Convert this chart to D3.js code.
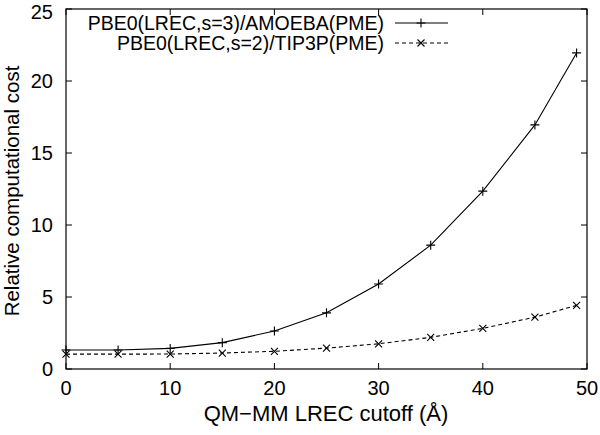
<!DOCTYPE html>
<html><head><meta charset="utf-8">
<script src="https://cdn.jsdelivr.net/npm/d3@7"></script>
<style>body{margin:0;background:#fff}svg{display:block}text{font-family:"Liberation Sans",Arial,sans-serif;fill:#000}</style>
</head><body><svg id="c" width="600" height="435"></svg>
<script>
const cutoffA = [0,5,10,15,20,25,30,35,40,45,49];
const costAmoeba = [1.32,1.32,1.43,1.83,2.64,3.9,5.9,8.6,12.35,16.95,21.95];
const costTip3p = [1.03,1.03,1.04,1.11,1.23,1.45,1.75,2.2,2.82,3.6,4.42];
const seriesNames = ["PBE0(LREC,s=3)/AMOEBA(PME)","PBE0(LREC,s=2)/TIP3P(PME)"];
const xTicks = [0,10,20,30,40,50];
const yTicks = [0,5,10,15,20,25];

const svg = d3.select("#c");
const L=66,R=587,T=9,B=369;
const x = d3.scaleLinear().domain([0,50]).range([L,R]);
const y = d3.scaleLinear().domain([0,25]).range([B,T]);

const g = svg.append("g");
g.append("rect").attr("x",L).attr("y",T).attr("width",R-L).attr("height",B-T)
 .attr("fill","none").attr("stroke","#000").attr("stroke-width",1.2);
const tl=6;
xTicks.forEach(v=>{
  g.append("line").attr("x1",x(v)).attr("x2",x(v)).attr("y1",B).attr("y2",B-tl).attr("stroke","#000");
  g.append("line").attr("x1",x(v)).attr("x2",x(v)).attr("y1",T).attr("y2",T+tl).attr("stroke","#000");
  g.append("text").attr("x",x(v)).attr("y",B+26).attr("text-anchor","middle").attr("font-size",20).text(v);
});
yTicks.forEach(v=>{
  g.append("line").attr("x1",L).attr("x2",L+tl).attr("y1",y(v)).attr("y2",y(v)).attr("stroke","#000");
  g.append("line").attr("x1",R).attr("x2",R-tl).attr("y1",y(v)).attr("y2",y(v)).attr("stroke","#000");
  const ty = Math.max(y(v)+7.2, 18.6);
  g.append("text").attr("x",L-13).attr("y",ty).attr("text-anchor","end").attr("font-size",20).text(v);
});
g.append("text").attr("x",326).attr("y",421).attr("text-anchor","middle").attr("font-size",22).text("QM\u2212MM LREC cutoff (\u00C5)");
g.append("text").attr("transform",`translate(19,191) rotate(-90)`).attr("text-anchor","middle").attr("font-size",20.5).text("Relative computational cost");

const line = d3.line().x(d=>x(d[0])).y(d=>y(d[1]));
const d1 = cutoffA.map((c,i)=>[c,costAmoeba[i]]);
const d2 = cutoffA.map((c,i)=>[c,costTip3p[i]]);
g.append("path").attr("d",line(d1)).attr("fill","none").attr("stroke","#000").attr("stroke-width",1.1);
g.append("path").attr("d",line(d2)).attr("fill","none").attr("stroke","#000").attr("stroke-width",1.1).attr("stroke-dasharray","4,3");

function plus(px,py,s){ return `M${px-s},${py}H${px+s}M${px},${py-s}V${py+s}`; }
function cross(px,py,s){ return `M${px-s},${py-s}L${px+s},${py+s}M${px-s},${py+s}L${px+s},${py-s}`; }
d1.forEach(d=>g.append("path").attr("d",plus(x(d[0]),y(d[1]),4.5)).attr("stroke","#000").attr("stroke-width",1.1));
d2.forEach(d=>g.append("path").attr("d",cross(x(d[0]),y(d[1]),3.5)).attr("stroke","#000").attr("stroke-width",1.1));

const ly=[23,43];
seriesNames.forEach((n,i)=>{
  g.append("text").attr("x",384).attr("y",ly[i]).attr("dy","0.36em").attr("text-anchor","end").attr("font-size",19.5).text(n);
  const ln=g.append("line").attr("x1",395).attr("x2",448).attr("y1",ly[i]).attr("y2",ly[i]).attr("stroke","#000").attr("stroke-width",1.1);
  if(i===1) ln.attr("stroke-dasharray","4,3");
  g.append("path").attr("d",i===0?plus(421,ly[i],4.5):cross(421,ly[i],3.5)).attr("stroke","#000").attr("stroke-width",1.1);
});
</script></body></html>
